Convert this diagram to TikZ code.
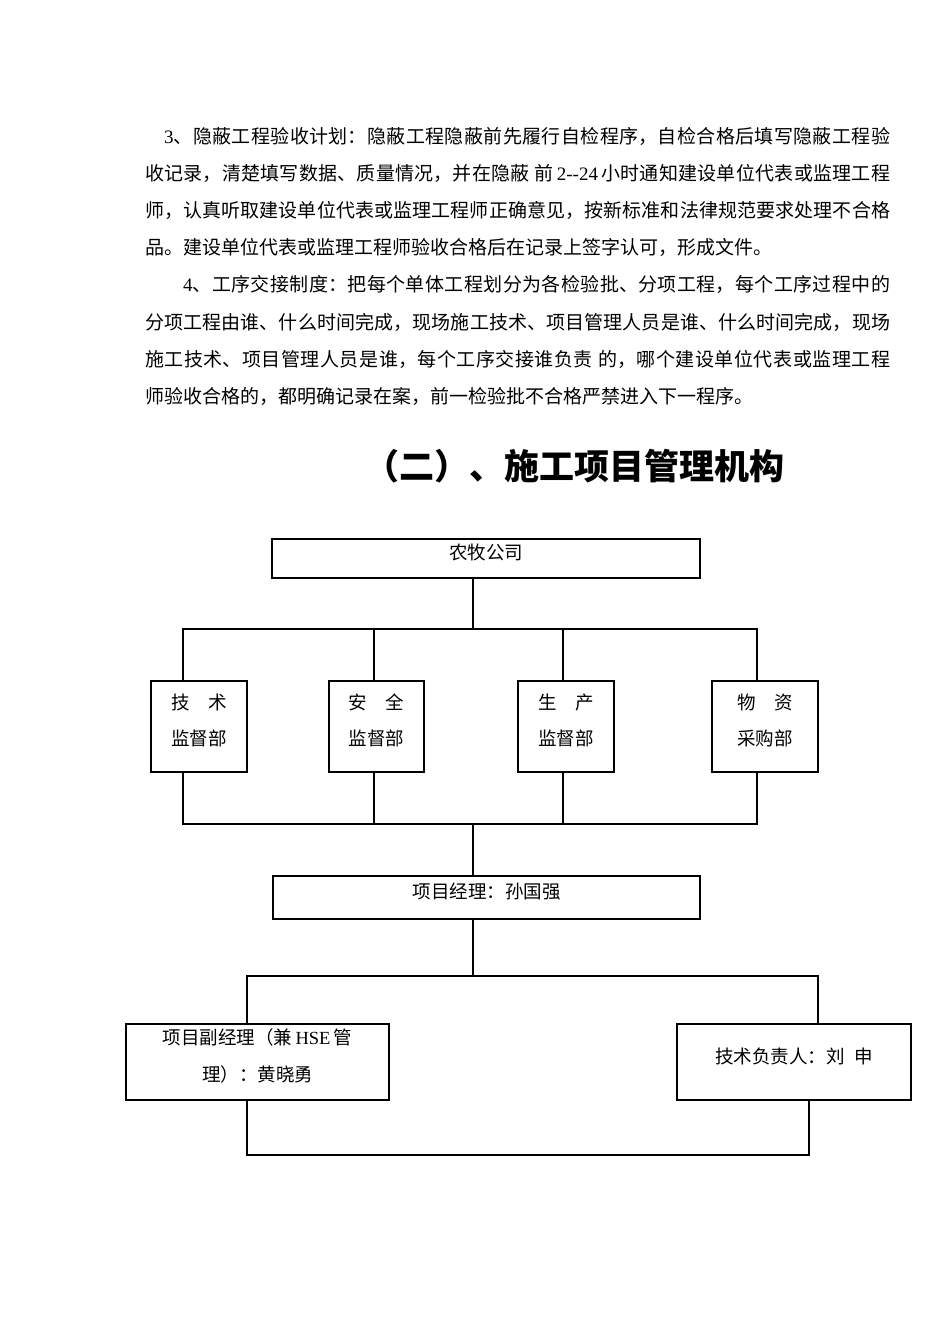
\documentclass[tikz,border=0pt]{standalone}
\usepackage{fontspec}
\setmainfont{Liberation Serif}
\newfontfamily\cjk{Noto Sans CJK SC}
\usetikzlibrary{positioning}
\XeTeXlinebreaklocale "zh"
\XeTeXlinebreakskip = 0pt plus 1pt

\begin{document}
\begin{tikzpicture}[x=1pt, y=-1pt,
    orgbox/.style={draw, line width=2pt, inner sep=0pt, align=center, text depth=13pt,
                   font=\cjk\fontsize{18.5}{36}\selectfont},
    link/.style={line width=2pt, line cap=rect}]
  \useasboundingbox (0,0) rectangle (950,1344);

  % text above the chart
  \node[anchor=base west, text width=745pt, align=justify, inner sep=0pt,
        font=\cjk\fontsize{19}{37.14}\selectfont] (notes) at (145,143.3)
       {\hspace*{1em}{\rmfamily 3}、隐蔽工程验收计划：隐蔽工程隐蔽前先履行自检程序，自检合格后填写隐蔽工程验\linebreak
        收记录，清楚填写数据、质量情况，并在隐蔽\ 前\,{\rmfamily 2-{}-24}\,小时通知建设单位代表或监理工程\linebreak
        师，认真听取建设单位代表或监理工程师正确意见，按新标准和法律规范要求处理不合格\linebreak
        品。建设单位代表或监理工程师验收合格后在记录上签字认可，形成文件。\par
        \hspace*{2em}{\rmfamily 4}、工序交接制度：把每个单体工程划分为各检验批、分项工程，每个工序过程中的\linebreak
        分项工程由谁、什么时间完成，现场施工技术、项目管理人员是谁、什么时间完成，现场\linebreak
        施工技术、项目管理人员是谁，每个工序交接谁负责\ 的，哪个建设单位代表或监理工程\linebreak
        师验收合格的，都明确记录在案，前一检验批不合格严禁进入下一程序。};

  \node[anchor=base west, inner sep=0pt, font=\cjk\bfseries\fontsize{35}{40}\selectfont]
       (title) at (364,479) {（二）、施工项目管理机构};

  % chart boxes
  \node[orgbox, minimum width=428pt, minimum height=39pt] (company) at (486,558.5) {农牧公司};
  \node[orgbox, minimum width=96pt, minimum height=91pt] (tech) at (199,726.5) {技　术\\监督部};
  \node[orgbox, minimum width=95pt, minimum height=91pt] (safety) at (376.5,726.5) {安　全\\监督部};
  \node[orgbox, minimum width=96pt, minimum height=91pt] (prod) at (566,726.5) {生　产\\监督部};
  \node[orgbox, minimum width=106pt, minimum height=91pt] (supply) at (765,726.5) {物　资\\采购部};
  \node[orgbox, minimum width=427pt, minimum height=43pt] (pm) at (486.5,897.5) {项目经理：孙国强};
  \node[orgbox, minimum width=263pt, minimum height=76pt, font=\cjk\fontsize{18.5}{37}\selectfont]
       (deputy) at (257.5,1062) {项目副经理（兼\,{\rmfamily HSE}\,管\\理）：黄晓勇};
  \node[orgbox, minimum width=234pt, minimum height=76pt] (chief) at (794,1062) {技术负责人：刘\enspace 申};

  % connectors
  \coordinate (hub1) at (473,629);
  \coordinate (hub2) at (473,824);
  \coordinate (hub3) at (473,976);
  \foreach \dept/\xx in {tech/183, safety/374, prod/563, supply/757} {
    \coordinate (up-\dept) at (\xx,629);
    \coordinate (dn-\dept) at (\xx,824);
    \draw[link] (up-\dept) -- (up-\dept |- \dept.north);
    \draw[link] (dn-\dept |- \dept.south) -- (dn-\dept);
  }
  \draw[link] (company.south -| hub1) -- (hub1);
  \draw[link] (up-tech) -- (up-supply);
  \draw[link] (dn-tech) -- (dn-supply);
  \draw[link] (hub2) -- (pm.north -| hub2);
  \draw[link] (pm.south -| hub3) -- (hub3);
  \coordinate (up-deputy) at (247,976);
  \coordinate (up-chief) at (818,976);
  \draw[link] (deputy.north -| up-deputy) -- (up-deputy) -- (up-chief) -- (chief.north -| up-chief);
  \coordinate (base-deputy) at (247,1155);
  \coordinate (base-chief) at (809,1155);
  \draw[link] (deputy.south -| base-deputy) -- (base-deputy) -- (base-chief) -- (chief.south -| base-chief);
\end{tikzpicture}
\end{document}
